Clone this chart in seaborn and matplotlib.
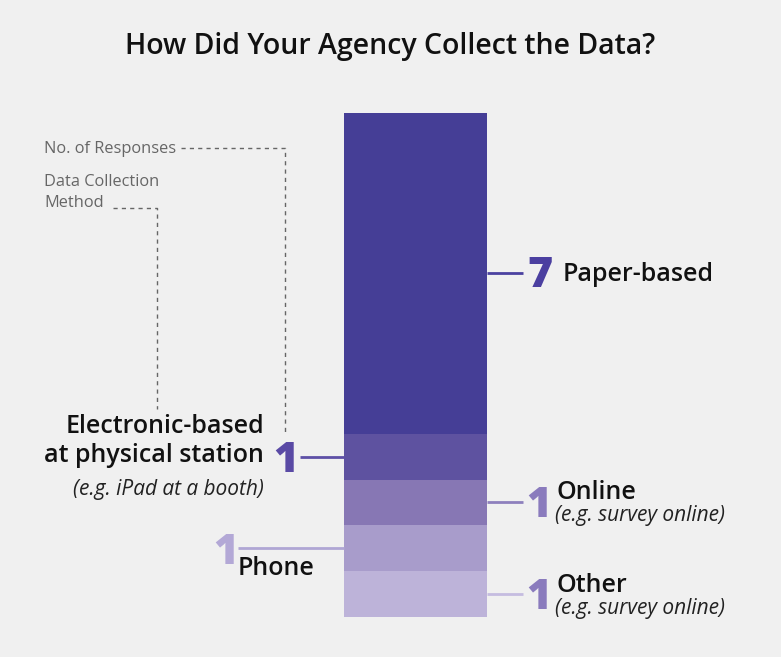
import matplotlib
matplotlib.use("Agg")
import matplotlib.pyplot as plt
from matplotlib.lines import Line2D
import numpy as np
import seaborn as sns

# ---- data -------------------------------------------------------------
methods = ["Paper-based", "Electronic-based", "Online", "Phone", "Other"]
responses = [7, 1, 1, 1, 1]
method_titles = ["Paper-based", "Electronic-based\nat physical station", "Online", "Phone", "Other"]
method_notes = ["", "(e.g. iPad at a booth)", "(e.g. survey online)", "", "(e.g. survey online)"]
title = "How Did Your Agency Collect the Data?"
key_count = "No. of Responses"
key_method = "Data Collection\nMethod"

# ---- style ------------------------------------------------------------
bar_colors = ["#453e96", "#5e52a0", "#8777b4", "#a89ccb", "#bdb3d9"]
line_colors = ["#4b41a0", "#5e50a6", "#8e80bd", "#b0a6d4", "#c5bce0"]
number_colors = ["#4b3fa0", "#5a4aa5", "#8a7bbd", "#b3a8d6", "#8a7bbd"]
bg = "#f0f0f0"
ink = "#111111"

sns.set_style("white")
plt.rcParams["font.family"] = ["Open Sans", "DejaVu Sans"]

W, H = 781, 657
fig = plt.figure(figsize=(W / 100, H / 100), dpi=100, facecolor=bg)

# stacked column axes
ax = fig.add_axes([344 / W, 40 / H, 143 / W, 504 / H])
ax.set_facecolor("none")

total = sum(responses)
bottoms = [sum(responses[i + 1:]) for i in range(len(responses))]
for i, (name, val) in enumerate(zip(methods, responses)):
    sns.barplot(x=["all"], y=[val], bottom=bottoms[i], color=bar_colors[i],
                saturation=1, width=1.0, errorbar=None, linewidth=0, ax=ax)
ax.set_xlim(-0.5, 0.5)
ax.set_ylim(0, total)
ax.axis("off")


def seg_mid(i):
    """Vertical pixel position (from top) of the middle of segment i."""
    disp = ax.transData.transform((0, bottoms[i] + responses[i] / 2))
    return H - disp[1]


def put(x, y, s, **kw):
    fig.text(x / W, 1 - y / H, s, **kw)


def line(xs, ys, **kw):
    fig.add_artist(Line2D([x / W for x in xs], [1 - y / H for y in ys],
                          transform=fig.transFigure, **kw))


num_kw = dict(fontsize=31, fontweight=800, va="baseline")
lab_kw = dict(fontsize=18, fontweight="semibold", color=ink, va="baseline")
note_kw = dict(fontsize=15, fontstyle="italic", color="#222222", va="baseline")
lead_kw = dict(lw=2.0, solid_capstyle="butt")

# title
put(390, 54, title, fontsize=20.5, fontweight="semibold", color=ink, ha="center", va="baseline")

# Paper-based (right)
y0 = seg_mid(0)
line([487, 523], [y0, y0], color=line_colors[0], **lead_kw)
put(527, y0 + 14, str(responses[0]), color=number_colors[0], ha="left", **num_kw)
put(563, y0 + 8, method_titles[0], ha="left", **lab_kw)

# Electronic-based (left)
y1 = seg_mid(1)
line([300, 344], [y1, y1], color=line_colors[1], **lead_kw)
put(298, y1 + 15, str(responses[1]), color=number_colors[1], ha="right", **num_kw)
t1, t2 = method_titles[1].split("\n")
put(264, y1 - 24, t1, ha="right", **lab_kw)
put(264, y1 + 5, t2, ha="right", **lab_kw)
put(264, y1 + 38, method_notes[1], ha="right", **note_kw)

# Online (right)
y2 = seg_mid(2)
line([487, 523], [y2, y2], color=line_colors[2], **lead_kw)
put(526, y2 + 15, str(responses[2]), color=number_colors[2], ha="left", **num_kw)
put(557, y2 - 3, method_titles[2], ha="left", **lab_kw)
put(555, y2 + 19, method_notes[2], ha="left", **note_kw)

# Phone (left)
y3 = seg_mid(3)
line([238, 344], [y3, y3], color=line_colors[3], **lead_kw)
put(238, y3 + 16, str(responses[3]), color=number_colors[3], ha="right", **num_kw)
put(238, y3 + 27, method_titles[3], ha="left", **lab_kw)

# Other (right)
y4 = seg_mid(4)
line([487, 523], [y4, y4], color=line_colors[4], **lead_kw)
put(526, y4 + 15, str(responses[4]), color=number_colors[4], ha="left", **num_kw)
put(557, y4 - 2, method_titles[4], ha="left", **lab_kw)
put(555, y4 + 20, method_notes[4], ha="left", **note_kw)

# key for the annotations
key_kw = dict(fontsize=11.8, color="#666666", ha="left", va="baseline")
dash_kw = dict(color="#666666", lw=1.0, linestyle=(0, (3, 3)))
put(44, 153, key_count, **key_kw)
k1, k2 = key_method.split("\n")
put(44, 186, k1, **key_kw)
put(44, 207, k2, **key_kw)
line([181, 285, 285], [148, 148, y1 - 24], **dash_kw)
line([113, 157, 157], [208, 208, y1 - 48], **dash_kw)

fig.savefig("out.png", dpi=100, facecolor=bg)
